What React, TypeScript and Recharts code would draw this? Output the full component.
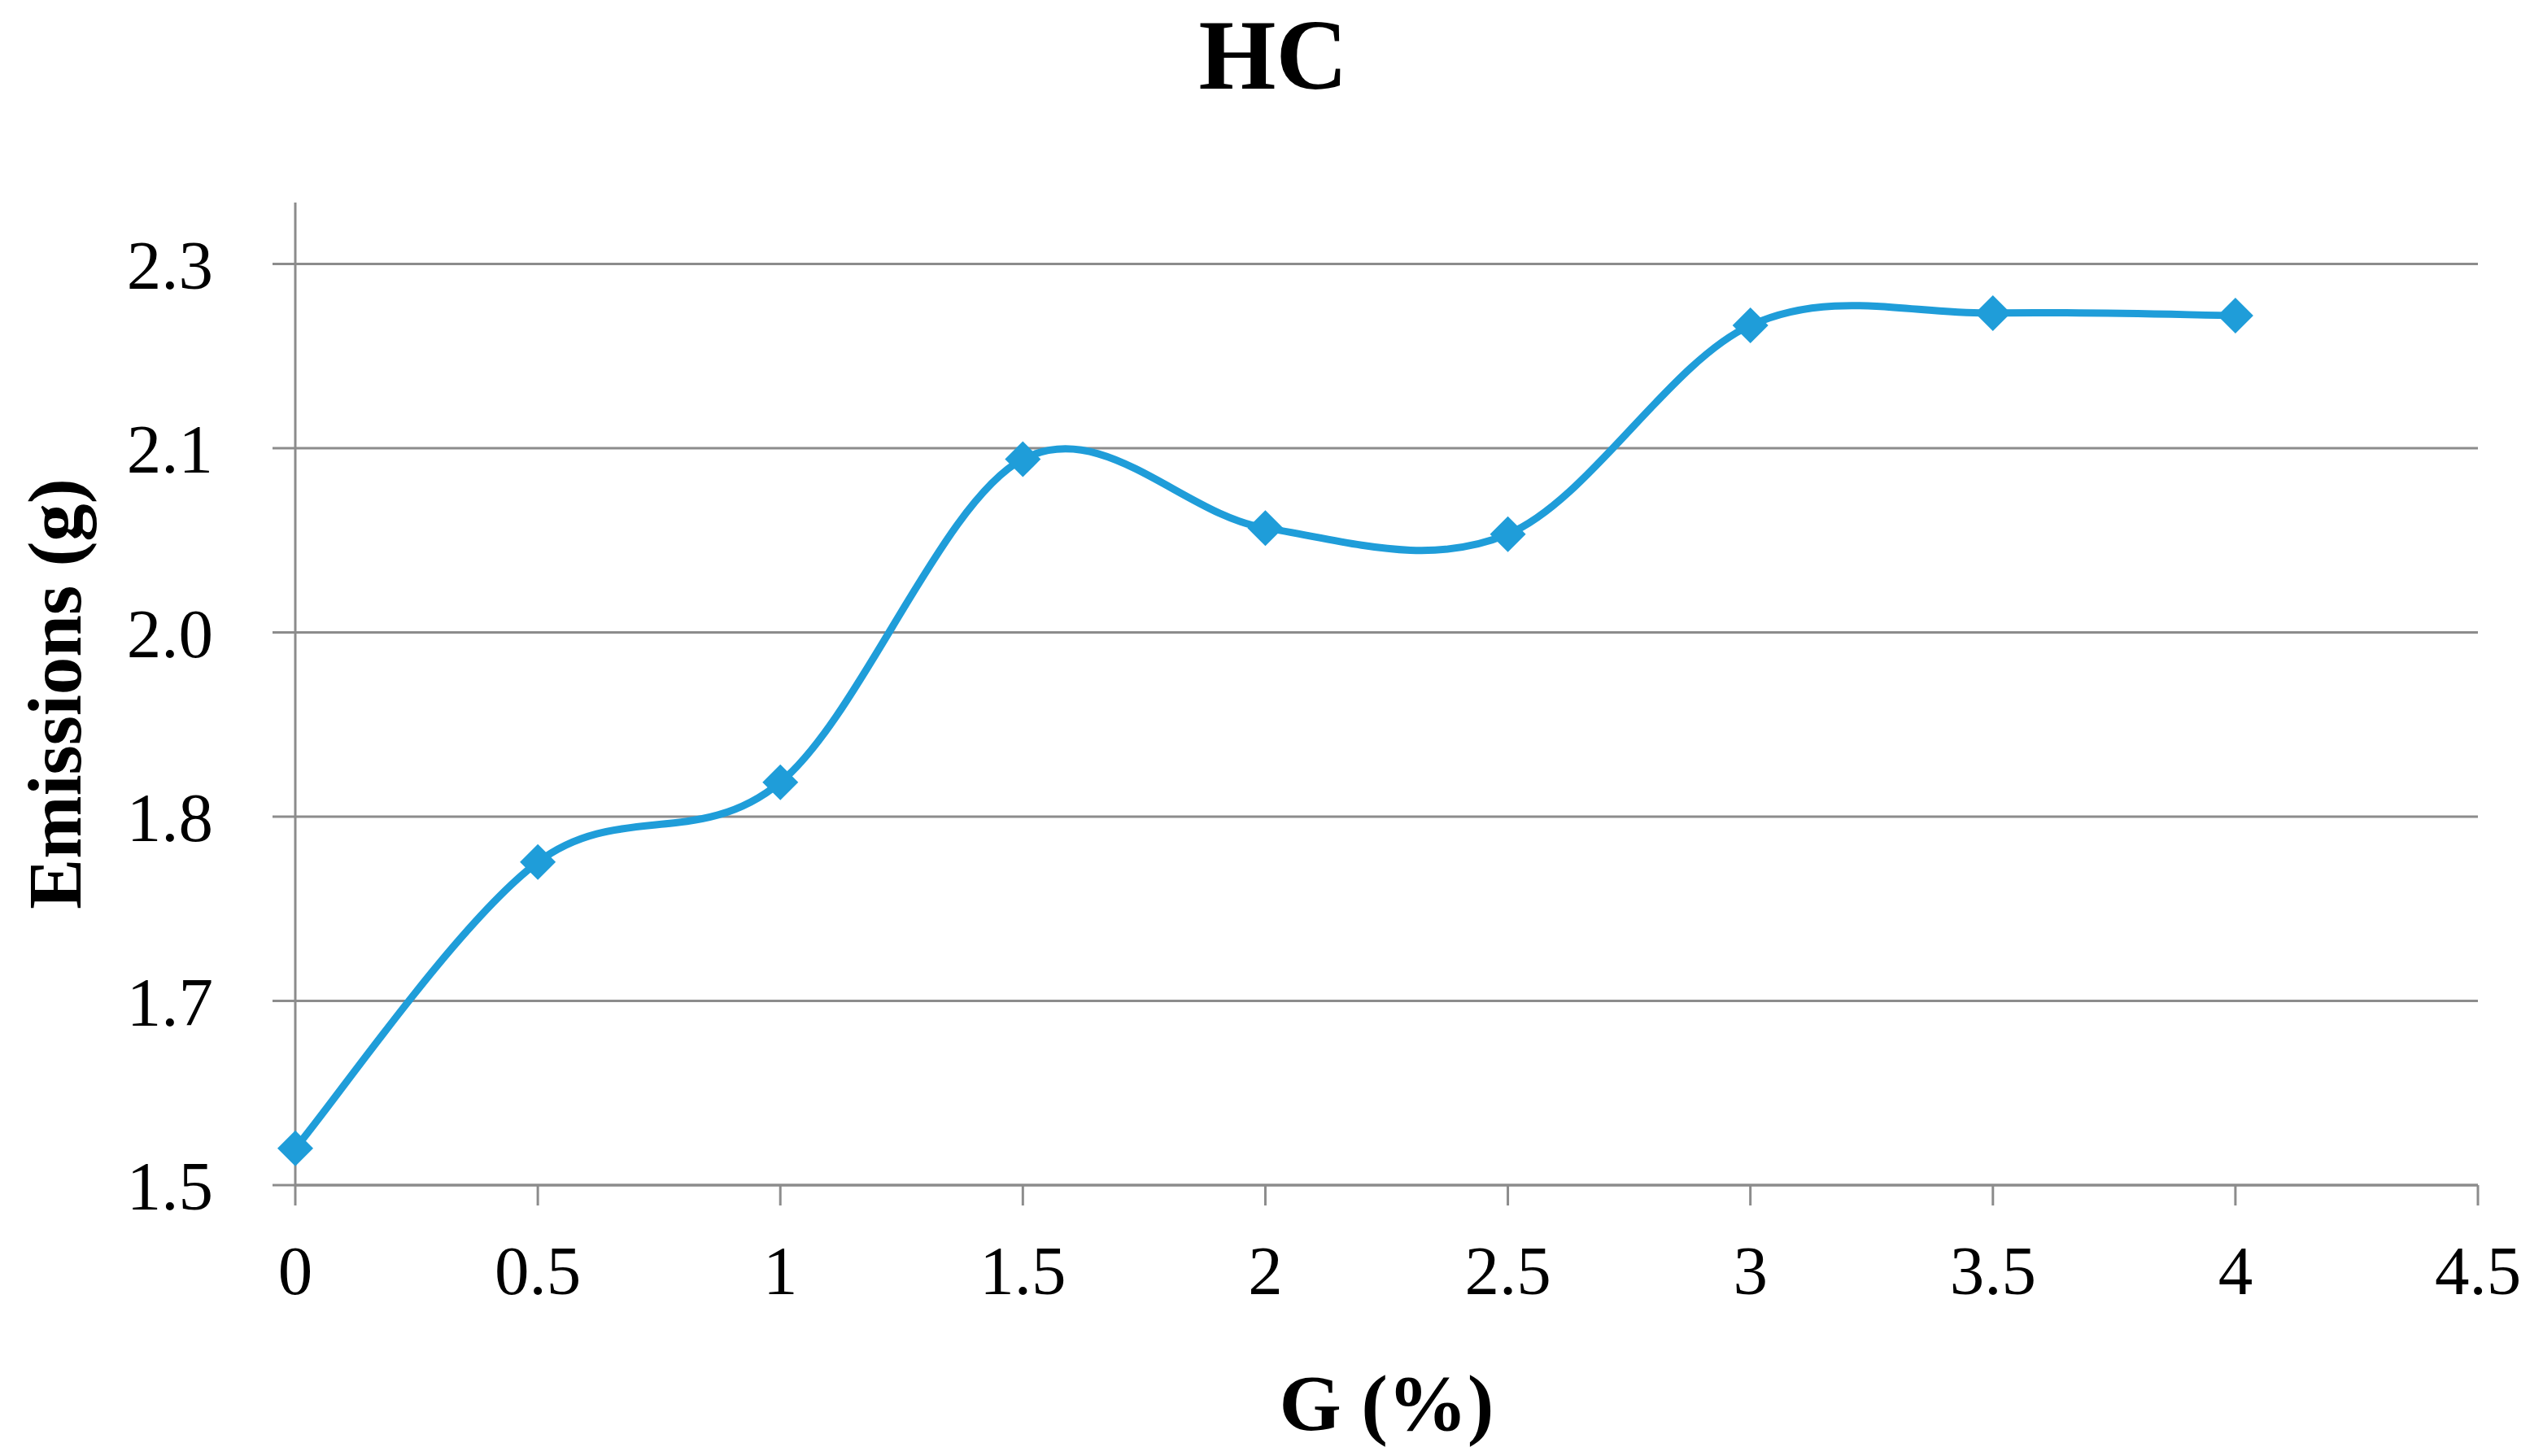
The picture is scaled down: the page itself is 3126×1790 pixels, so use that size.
import { LineChart, Line, XAxis, YAxis, ReferenceLine, Label } from 'recharts';

const gPercent = [0, 0.5, 1, 1.5, 2, 2.5, 3, 3.5, 4];
const hcEmissions = [1.53, 1.763, 1.828, 2.091, 2.035, 2.03, 2.2, 2.21, 2.208];

const xTicks = [0, 0.5, 1, 1.5, 2, 2.5, 3, 3.5, 4, 4.5];
const yTicks = [1.5, 1.65, 1.8, 1.95, 2.1, 2.25];
const yTickLabels = ['1.5', '1.7', '1.8', '2.0', '2.1', '2.3'];

const data = gPercent.map((g, i) => ({ g, hc: hcEmissions[i] }));

const FONT = '"Liberation Serif", "Times New Roman", serif';
const BLUE = '#1f9dd9';
const GREY = '#8c8c8c';

// Excel-style smoothed line (cardinal spline, tension 0)
function excelSmooth(context: any) {
  let pts: number[][] = [];
  return {
    areaStart() {},
    areaEnd() {},
    lineStart() {
      pts = [];
    },
    point(x: number, y: number) {
      pts.push([x, y]);
    },
    lineEnd() {
      if (!pts.length) return;
      context.moveTo(pts[0][0], pts[0][1]);
      for (let i = 0; i < pts.length - 1; i++) {
        const p0 = pts[i - 1] || pts[i];
        const p1 = pts[i];
        const p2 = pts[i + 1];
        const p3 = pts[i + 2] || p2;
        context.bezierCurveTo(
          p1[0] + (p2[0] - p0[0]) / 6,
          p1[1] + (p2[1] - p0[1]) / 6,
          p2[0] - (p3[0] - p1[0]) / 6,
          p2[1] - (p3[1] - p1[1]) / 6,
          p2[0],
          p2[1]
        );
      }
    },
  };
}

function Diamond(props: any) {
  const { cx, cy, index } = props;
  const r = 22;
  return (
    <path
      key={`d-${index}`}
      d={`M${cx},${cy - r}L${cx + r},${cy}L${cx},${cy + r}L${cx - r},${cy}Z`}
      fill={BLUE}
    />
  );
}

export default function App() {
  return (
    <div style={{ position: 'absolute', left: 0, top: 0, width: 3126, height: 1790, background: '#fff' }}>
      <div
        style={{
          position: 'absolute',
          left: 0,
          top: 7,
          width: 3130,
          textAlign: 'center',
          fontFamily: FONT,
          fontWeight: 'bold',
          fontSize: 122,
          lineHeight: '122px',
          color: '#000',
        }}
      >
        HC
      </div>
      <LineChart
        width={3126}
        height={1790}
        data={data}
        margin={{ top: 249, right: 80, bottom: 0, left: 0 }}
        style={{ position: 'absolute', left: 0, top: 0 }}
      >
        {yTicks.map((t) => (
          <ReferenceLine key={`g-${t}`} y={t} stroke={GREY} strokeWidth={3} />
        ))}
        <XAxis
          dataKey="g"
          type="number"
          domain={[0, 4.5]}
          ticks={xTicks}
          height={333}
          stroke={GREY}
          strokeWidth={3}
          tickSize={25}
          tickMargin={49}
          tick={{ fill: '#000', fontSize: 85, fontFamily: FONT }}
          tickFormatter={(v: number) => String(v)}
        >
          <Label
            value="G (%)"
            position="insideBottom"
            offset={32}
            style={{ fill: '#000', fontSize: 98, fontWeight: 'bold', fontFamily: FONT }}
          />
        </XAxis>
        <YAxis
          type="number"
          domain={[1.5, 2.3]}
          ticks={yTicks}
          width={363}
          stroke={GREY}
          strokeWidth={3}
          tickSize={28}
          tickMargin={73}
          allowDataOverflow
          tick={{ fill: '#000', fontSize: 85, fontFamily: FONT }}
          tickFormatter={(v: number) => yTickLabels[yTicks.indexOf(v)] ?? String(v)}
        >
          <Label
            value="Emissions (g)"
            angle={-90}
            position="insideLeft"
            offset={66}
            textAnchor="middle"
            style={{ fill: '#000', fontSize: 93, fontWeight: 'bold', fontFamily: FONT }}
          />
        </YAxis>
        <Line
          dataKey="hc"
          type={excelSmooth as any}
          stroke={BLUE}
          strokeWidth={9}
          dot={Diamond}
          activeDot={false}
          isAnimationActive={false}
        />
      </LineChart>
    </div>
  );
}
